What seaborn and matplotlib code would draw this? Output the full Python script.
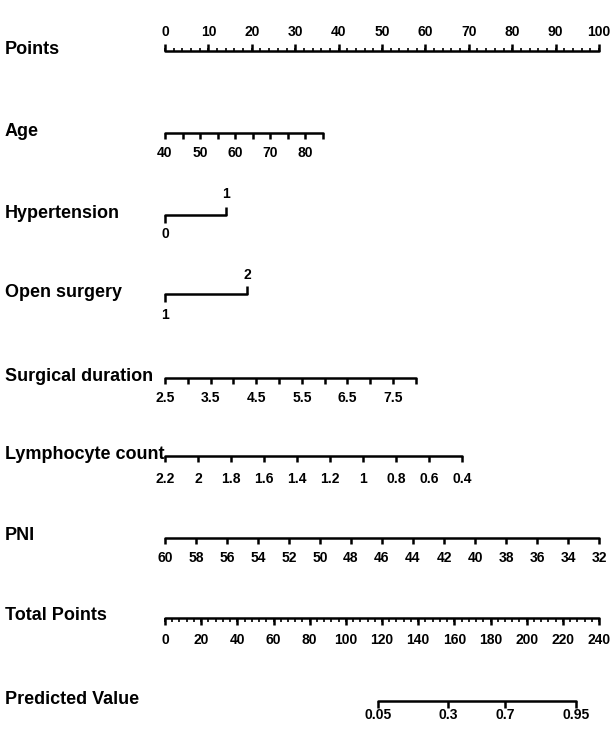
import numpy as np
import pandas as pd
import matplotlib
matplotlib.use("Agg")
import matplotlib.pyplot as plt
import seaborn as sns

# ---------------- data ----------------
row_names = ["Points", "Age", "Hypertension", "Open surgery", "Surgical duration",
             "Lymphocyte count", "PNI", "Total Points", "Predicted Value"]

points_ticks = list(range(0, 101, 10))

age_ticks = [40, 45, 50, 55, 60, 65, 70, 75, 80, 85]
age_labels = [40, 50, 60, 70, 80]
age_max_points = 36.4          # points at age 85

hyper_levels = [0, 1]
hyper_points = [0, 14.0]

open_levels = [1, 2]
open_points = [0, 19.0]

dur_ticks = [2.5, 3.0, 3.5, 4.0, 4.5, 5.0, 5.5, 6.0, 6.5, 7.0, 7.5, 8.0]
dur_labels = [2.5, 3.5, 4.5, 5.5, 6.5, 7.5]
dur_max_points = 57.8          # points at 8.0

lym_ticks = [2.2, 2.0, 1.8, 1.6, 1.4, 1.2, 1.0, 0.8, 0.6, 0.4]
lym_max_points = 68.4          # points at 0.4

pni_ticks = [60, 58, 56, 54, 52, 50, 48, 46, 44, 42, 40, 38, 36, 34, 32]
pni_max_points = 100.0         # points at 32

total_ticks = list(range(0, 241, 20))
total_max = 240

pred_values = [0.05, 0.3, 0.7, 0.95]
pred_center_total = 172.5      # total points where predicted = 0.5
pred_slope = 0.0537            # logit change per total point

# ---------------- layout ----------------
sns.set_theme(style="white")
plt.rcParams["font.family"] = ["Liberation Sans", "DejaVu Sans"]
plt.rcParams["text.color"] = "black"

fig = plt.figure(figsize=(6.14, 7.29), dpi=100)
ax = fig.add_axes([0, 0, 1, 1])
px_per_pt = 4.34
x0_px = 165
ax.set_xlim(-x0_px / px_per_pt, (614 - x0_px) / px_per_pt)
ax.set_ylim(729, 0)
ax.axis("off")

row_y = [51, 133, 215, 294, 378, 456, 538, 618, 701]
lw = 1.8
LAB_FS = 13
TICK_FS = 10
TXT = dict(fontweight="bold", color="black")


def fmt(v):
    return "%g" % v


def linear_pos(vals, v0, v1, maxp):
    vals = np.asarray(vals, dtype=float)
    return (vals - v0) / (v1 - v0) * maxp


segments = []


def add_line(x1, x2, y, name):
    segments.append(pd.DataFrame({"x": [x1, x2], "y": [y, y], "seg": name}))


def down_axis(pos, labels_pos, labels, y, name, tl=6, gap=13):
    add_line(min(pos), max(pos), y, name)
    ax.vlines(pos, y, y + tl, color="black", lw=lw)
    for p, l in zip(labels_pos, labels):
        ax.text(p, y + gap + 7, fmt(l), ha="center", va="center",
                fontsize=TICK_FS, **TXT)


# row labels
for name, y in zip(row_names, row_y):
    ax.text(-x0_px / px_per_pt + 5 / px_per_pt, y - 2, name, ha="left", va="center",
            fontsize=LAB_FS, **TXT)

# Points axis (ticks up, labels above)
y = row_y[0]
add_line(0, 100, y, "points")
minor = np.arange(0, 100.01, 2)
ax.vlines(minor, y - 3.5, y, color="black", lw=1.2)
ax.vlines(points_ticks, y - 7, y, color="black", lw=lw)
for t in points_ticks:
    ax.text(t, y - 19, str(t), ha="center", va="center", fontsize=TICK_FS, **TXT)

# Age
y = row_y[1]
ap = linear_pos(age_ticks, 40, 85, age_max_points)
down_axis(ap, linear_pos(age_labels, 40, 85, age_max_points), age_labels, y, "age")

# Hypertension
y = row_y[2]
add_line(hyper_points[0], hyper_points[1], y, "hyper")
ax.vlines(hyper_points[0], y, y + 8, color="black", lw=lw)
ax.vlines(hyper_points[1], y - 8, y, color="black", lw=lw)
ax.text(hyper_points[0], y + 19, str(hyper_levels[0]), ha="center", va="center",
        fontsize=TICK_FS, **TXT)
ax.text(hyper_points[1], y - 21, str(hyper_levels[1]), ha="center", va="center",
        fontsize=TICK_FS, **TXT)

# Open surgery
y = row_y[3]
add_line(open_points[0], open_points[1], y, "open")
ax.vlines(open_points[0], y, y + 8, color="black", lw=lw)
ax.vlines(open_points[1], y - 8, y, color="black", lw=lw)
ax.text(open_points[0], y + 21, str(open_levels[0]), ha="center", va="center",
        fontsize=TICK_FS, **TXT)
ax.text(open_points[1], y - 19, str(open_levels[1]), ha="center", va="center",
        fontsize=TICK_FS, **TXT)

# Surgical duration
y = row_y[4]
dp = linear_pos(dur_ticks, 2.5, 8.0, dur_max_points)
down_axis(dp, linear_pos(dur_labels, 2.5, 8.0, dur_max_points), dur_labels, y, "dur")

# Lymphocyte count
y = row_y[5]
lp = linear_pos(lym_ticks, 2.2, 0.4, lym_max_points)
down_axis(lp, lp, lym_ticks, y, "lym", gap=16)

# PNI
y = row_y[6]
pp = linear_pos(pni_ticks, 60, 32, pni_max_points)
down_axis(pp, pp, pni_ticks, y, "pni")

# Total points (map 0..240 onto 0..100)
y = row_y[7]
scale = 100.0 / total_max
add_line(0, 100, y, "total")
tminor = np.arange(0, total_max + 0.01, 4) * scale
ax.vlines(tminor, y, y + 3.5, color="black", lw=1.2)
ax.vlines(np.array(total_ticks) * scale, y, y + 7, color="black", lw=lw)
for t in total_ticks:
    ax.text(t * scale, y + 22, str(t), ha="center", va="center", fontsize=TICK_FS, **TXT)

# Predicted value
y = row_y[8]
pv = np.array(pred_values)
tp = pred_center_total + np.log(pv / (1 - pv)) / pred_slope
ppos = tp * scale
add_line(ppos.min(), ppos.max(), y, "pred")
ax.vlines(ppos, y, y + 7, color="black", lw=lw)
for p, v in zip(ppos, pred_values):
    ax.text(p, y + 14, fmt(v), ha="center", va="center", fontsize=TICK_FS, **TXT)

seg_df = pd.concat(segments, ignore_index=True)
sns.lineplot(data=seg_df, x="x", y="y", units="seg", estimator=None, color="black",
             lw=lw, ax=ax, legend=False, sort=False)
ax.set_xlim(-x0_px / px_per_pt, (614 - x0_px) / px_per_pt)
ax.set_ylim(729, 0)
ax.axis("off")

fig.savefig("out.png", dpi=100, facecolor="white")
